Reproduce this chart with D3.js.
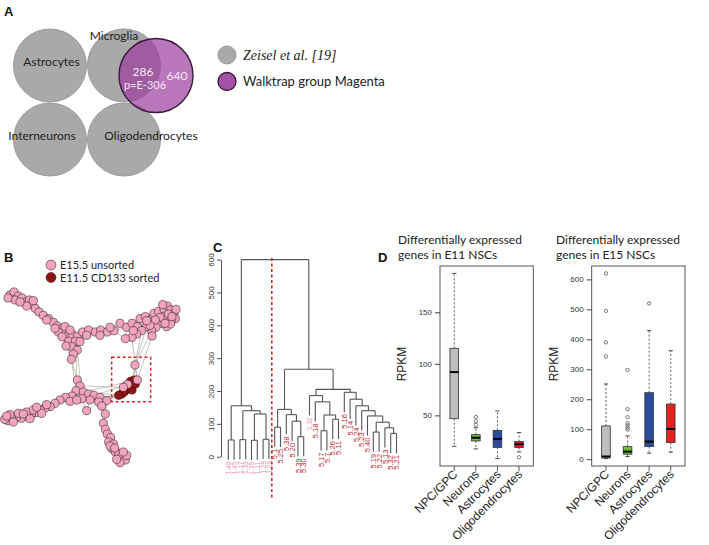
<!DOCTYPE html>
<html><head><meta charset="utf-8">
<script src="https://cdn.jsdelivr.net/npm/d3@7/dist/d3.min.js"></script>
<style>body{margin:0;background:#fff}svg{display:block}</style>
</head><body><svg id="fig" width="709" height="545"></svg>
<script>
// ---------- DATA ----------
// Panel A
const cellTypes = ["Astrocytes","Microglia","Interneurons","Oligodendrocytes"];
const cellRow = [0,0,1,1];
const cellCol = [0,1,0,1];
const overlapCount = 286, overlapP = "p=E-306", magentaOnly = 640;
const legendA = ["Zeisel et al. [19]","Walktrap group Magenta"];
// Panel B network layout coordinates (layout units)
const armTopLeft = [[30,75],[42,66],[55,78],[45,90],[66,84],[75,96],[88,90],[96,104],[80,108],[106,115],[117,126],[130,136],[146,146],[160,157],[172,168],[186,176],[196,186],[175,186],[202,198],[186,200],[216,194],[232,200],[206,214],[226,214],[214,230],[232,240],[220,252],[214,268],[24,84],[60,96],[100,92],[140,150],[165,175],[195,170],[210,180],[240,215],[198,228]];
const armTopRight = [[248,186],[266,180],[286,186],[302,180],[322,186],[342,182],[360,160],[380,172],[396,160],[412,170],[420,146],[436,140],[452,150],[462,130],[476,124],[492,118],[502,108],[512,120],[522,132],[526,146],[514,152],[500,150],[490,140],[480,160],[468,172],[455,182],[440,170],[425,182],[410,192],[396,202],[376,206],[456,198],[500,170],[512,162],[400,182],[488,104],[505,132],[480,142],[466,150],[450,166],[528,118],[516,140],[495,160],[440,152],[260,196],[300,196],[330,172]];
const hubLower = [[232,330],[240,348],[228,362],[250,366],[266,372],[282,376],[300,382],[320,392],[296,396],[270,390],[246,386],[216,378],[196,382],[180,390],[165,400],[150,410],[135,414],[120,420],[108,428],[94,432],[80,440],[64,445],[50,440],[35,446],[24,452],[14,448],[30,434],[55,430],[80,426],[100,420],[125,430],[140,404],[260,422],[316,432],[305,408],[405,285],[40,456],[70,432],[90,446],[110,412],[20,438],[210,394],[230,390]];
const armBottom = [[310,460],[316,478],[322,492],[332,502],[326,516],[340,522],[336,536],[346,546],[356,552],[366,560],[376,570],[360,578],[350,568],[380,556],[330,528],[344,534],[370,546]];
const sortedPink = [[383,343],[412,330],[370,352]];
const sortedRed = [[365,372],[375,362],[386,356],[396,346],[392,334],[402,330],[380,347],[372,366],[356,376],[396,360],[406,342]];
const longEdges = [[[214,268],[232,330]],[[405,285],[396,202]],[[405,285],[455,182]],[[405,285],[425,182]],[[405,285],[412,330]],[[405,285],[396,346]],[[240,348],[370,352]],[[266,372],[365,372]],[[300,382],[356,376]],[[320,392],[365,372]],[[282,376],[383,343]],[[305,408],[310,460]],[[316,432],[310,460]],[[246,386],[356,376]],[[214,268],[228,362]],[[232,240],[246,386]],[[440,170],[405,285]],[[250,366],[392,334]],[[296,396],[372,366]],[[456,198],[412,330]],[[232,200],[228,362]]];
const legendB = ["E15.5 unsorted","E11.5 CD133 sorted"];
// Panel C dendrogram: [height, left, right]; leaves are labels
const dendro = [600,
  [155, [51,"1.49","1.45"], [140, [52,"1.17","1.33"], [130, [50,"1.35","1.11"], [53,"1.28","1.29"]]]],
  [266,
    [144, [90,"5.1","5.25"], [128,"5.38",[108,"5.20",[61,"5.39","5.30"]]]],
    [205,
      [186,"1.32",[167,"5.18",[127,[79,"5.17","5.7"],[114,"5.26","5.11"]]]],
      [196,"5.16",[175,"5.14",[155,"5.24",[140,"5.23",[124,"5.40",[105,[75,"5.19","5.22"],[88,"5.13",[71,"5.32","5.21"]]]]]]]]
    ]
  ]
];
const dendroTicks = [0,100,200,300,400,500,600];
// Panel D boxplots
const groups = ["NPC/GPC","Neurons","Astrocytes","Oligodendrocytes"];
const e11Low = [20, 17.5, 8.1, 14.6];
const e11Q1 = [46.8, 25.2, 19, 18.8];
const e11Med = [92, 28.3, 27.2, 22];
const e11Q3 = [115, 31.3, 35.5, 24.6];
const e11High = [187.7, 38, 54.3, 33.3];
const e11Out = [[], [48.4, 44.2, 40.8], [], [9.4]];
const e11Ticks = [50,100,150];
const e15Low = [2, 8.7, 20, 23.3];
const e15Q1 = [4, 16.7, 42, 55.5];
const e15Med = [9, 25.4, 58.7, 101];
const e15Q3 = [111, 42, 222, 184];
const e15High = [251, 77.7, 429, 362];
const e15Out = [[620, 495, 390, 343], [298, 167, 140, 120, 113, 105, 99], [520], []];
const e15Ticks = [0,100,200,300,400,500,600];
const titleE11 = ["Differentially expressed","genes in E11 NSCs"];
const titleE15 = ["Differentially expressed","genes in E15 NSCs"];

// ---------- DRAW ----------
const svg = d3.select("#fig");
const sans = "Lato, 'Open Sans', sans-serif";
const arial = "'Liberation Sans', Arial, sans-serif";
function panelLabel(t,x,y){svg.append("text").attr("x",x).attr("y",y).text(t)
  .attr("font-family",arial).attr("font-weight","bold").attr("font-size",13).attr("fill","#111");}

// ===== Panel A =====
panelLabel("A",4,16);
const gA = svg.append("g");
const ax = d3.scaleLinear().domain([0,1]).range([50,124]);
const ay = d3.scaleLinear().domain([0,1]).range([65.5,139.5]);
const rA = 36.5;
gA.selectAll("circle.ct").data(cellTypes).join("circle").attr("class","ct")
  .attr("cx",(d,i)=>ax(cellCol[i])).attr("cy",(d,i)=>ay(cellRow[i])).attr("r",rA)
  .attr("fill","#a9a9a9").attr("stroke","#999").attr("stroke-width",1);
gA.append("circle").attr("cx",ax(1)+32).attr("cy",ay(0)+10).attr("r",37)
  .attr("fill","#9c3c9c").attr("fill-opacity",0.7).attr("stroke","#3a1a3a").attr("stroke-width",1.4);
const labPos = [[51.5,66],[114,40],[42,140],[151,140]];
gA.selectAll("text.ct").data(cellTypes).join("text").attr("class","ct")
  .attr("x",(d,i)=>labPos[i][0]).attr("y",(d,i)=>labPos[i][1]).attr("text-anchor","middle")
  .attr("font-family",sans).attr("font-size",12).attr("fill","#222").text(d=>d);
gA.append("text").attr("x",143).attr("y",76).attr("text-anchor","middle").attr("font-family",sans)
  .attr("font-size",12).attr("fill","#f6e8f6").text(overlapCount);
gA.append("text").attr("x",145).attr("y",89).attr("text-anchor","middle").attr("font-family",sans)
  .attr("font-size",11).attr("fill","#f6e8f6").text(overlapP);
gA.append("text").attr("x",177).attr("y",79.5).attr("text-anchor","middle").attr("font-family",sans)
  .attr("font-size",12).attr("fill","#f6e8f6").text(magentaOnly);
gA.append("circle").attr("cx",227).attr("cy",55).attr("r",9).attr("fill","#a9a9a9").attr("stroke","#999");
gA.append("circle").attr("cx",227).attr("cy",81.5).attr("r",9).attr("fill","#a551a5").attr("stroke","#2e142e").attr("stroke-width",1.3);
gA.append("text").attr("x",243).attr("y",60).attr("font-family","'Liberation Serif','Times New Roman',serif")
  .attr("font-style","italic").attr("font-size",14).attr("fill","#222").text(legendA[0]);
gA.append("text").attr("x",243).attr("y",86).attr("font-family",sans).attr("font-size",13).attr("fill","#222").text(legendA[1]);

// ===== Panel B =====
panelLabel("B",4,262);
const bx = d3.scaleLinear().domain([0,660]).range([0,220]);
const by = d3.scaleLinear().domain([0,825]).range([270,545]);
const pinkNodes = [].concat(armTopLeft,armTopRight,hubLower,armBottom);
const allNodes = pinkNodes.concat(sortedPink,sortedRed);
const edges = [];
for(let i=0;i<allNodes.length;i++)for(let j=i+1;j<allNodes.length;j++){
  const dx=allNodes[i][0]-allNodes[j][0], dy=allNodes[i][1]-allNodes[j][1];
  if(dx*dx+dy*dy<46*46) edges.push([allNodes[i],allNodes[j]]);
}
const gB = svg.append("g");
gB.selectAll("line.e").data(edges.concat(longEdges)).join("line").attr("class","e")
  .attr("x1",d=>bx(d[0][0])).attr("y1",d=>by(d[0][1])).attr("x2",d=>bx(d[1][0])).attr("y2",d=>by(d[1][1]))
  .attr("stroke","#aaa9a0").attr("stroke-width",0.7);
gB.selectAll("circle.p").data(pinkNodes).join("circle").attr("class","p")
  .attr("cx",d=>bx(d[0])).attr("cy",d=>by(d[1])).attr("r",4.1)
  .attr("fill","#f2a3bd").attr("stroke","#3a2a2e").attr("stroke-width",0.6);
gB.selectAll("circle.r").data(sortedRed).join("circle").attr("class","r")
  .attr("cx",d=>bx(d[0])).attr("cy",d=>by(d[1])).attr("r",4.1)
  .attr("fill","#8e1414").attr("stroke","#3a0a0a").attr("stroke-width",0.6);
gB.selectAll("circle.p2").data(sortedPink).join("circle").attr("class","p2")
  .attr("cx",d=>bx(d[0])).attr("cy",d=>by(d[1])).attr("r",4.1)
  .attr("fill","#f2a3bd").attr("stroke","#3a2a2e").attr("stroke-width",0.6);
gB.append("rect").attr("x",bx(335)).attr("y",by(262)).attr("width",bx(452)-bx(335)).attr("height",by(395)-by(262))
  .attr("fill","none").attr("stroke","#e0262a").attr("stroke-width",1.5).attr("stroke-dasharray","3,2.5");
const legColB = ["#f2a3bd","#8e1414"];
legendB.forEach((t,i)=>{
  gB.append("circle").attr("cx",51).attr("cy",265+i*12.5).attr("r",5).attr("fill",legColB[i]).attr("stroke","#3a2a2e").attr("stroke-width",0.6);
  gB.append("text").attr("x",60).attr("y",269+i*12.5).attr("font-family",sans).attr("font-size",11).attr("fill","#222").text(t);
});

// ===== Panel C =====
panelLabel("C",213,252);
const gC = svg.append("g");
const cy = d3.scaleLinear().domain([0,600]).range([456.7,259.6]);
function toNode(a){ if(typeof a==="string") return {name:a}; return {h:a[0],children:[toNode(a[1]),toNode(a[2])]}; }
const root = d3.hierarchy(toNode(dendro));
const leaves = root.leaves();
const cx = d3.scaleLinear().domain([0,leaves.length-1]).range([228.3,396.5]);
leaves.forEach((l,i)=>{l.xp=cx(i);});
root.eachAfter(n=>{ if(n.children) n.xp=(n.children[0].xp+n.children[1].xp)/2; });
const hang = 60;
const segs=[];
root.each(n=>{
  if(n.children){
    const h=n.data.h;
    segs.push([n.children[0].xp,h,n.children[1].xp,h]);
    n.children.forEach(c=>{
      const ch = c.children? c.data.h : h-hang;
      c.endH = ch;
      segs.push([c.xp,h,c.xp,ch]);
    });
  }
});
gC.selectAll("line.d").data(segs).join("line").attr("class","d")
  .attr("x1",d=>d[0]).attr("y1",d=>cy(d[1])).attr("x2",d=>d[2]).attr("y2",d=>cy(d[3]))
  .attr("stroke","#555").attr("stroke-width",1.1);
gC.selectAll("text.lf").data(leaves).join("text").attr("class","lf")
  .attr("transform",d=>`translate(${d.xp+2.6},${cy(d.endH)+2}) rotate(-90)`)
  .attr("text-anchor","end").attr("font-family",arial)
  .attr("font-size",d=>d.data.name.startsWith("1.")?6.5:7.5)
  .attr("fill",d=>d.data.name.startsWith("1.")?"#f28aa8":"#c0272d").text(d=>d.data.name);
const cAxis = gC.append("g").attr("transform","translate(221,0)")
  .call(d3.axisLeft(cy).tickValues(dendroTicks).tickSize(4).tickSizeOuter(0));
cAxis.select(".domain").attr("stroke","#555");
cAxis.selectAll(".tick line").attr("stroke","#555");
cAxis.selectAll(".tick text").attr("transform","rotate(-90)").attr("x",0).attr("y",-7).attr("dy",0)
  .attr("text-anchor","middle").attr("font-family",arial).attr("font-size",8).attr("fill","#333");
const cutX = (leaves[7].xp+leaves[8].xp)/2;
gC.append("line").attr("x1",cutX).attr("x2",cutX).attr("y1",258).attr("y2",498)
  .attr("stroke","#e0262a").attr("stroke-width",1.6).attr("stroke-dasharray","3,2.5");

// ===== Panel D =====
panelLabel("D",378,262);
const boxFill = ["#bdbdbd","#6fbd3b","#2a4c9c","#e2231f"];
function boxPanel(x0,x1,low,q1,med,q3,high,out,ticks,title,titleX){
  const g = svg.append("g");
  const top=266, bot=466;
  const all = [].concat(low,high,...out);
  const mn=d3.min(all), mx=d3.max(all), pad=(mx-mn)*0.04;
  const y = d3.scaleLinear().domain([mn-pad,mx+pad]).range([bot,top]);
  const x = d3.scaleLinear().domain([0.5-0.16,4.5+0.16]).range([x0,x1]);
  const bw = x(0.4)-x(0);
  const cw = bw/2;
  groups.forEach((gname,i)=>{
    const c=x(i+1);
    g.append("line").attr("x1",c).attr("x2",c).attr("y1",y(q3[i])).attr("y2",y(high[i])).attr("stroke","#333").attr("stroke-width",0.8).attr("stroke-dasharray","2,2");
    g.append("line").attr("x1",c).attr("x2",c).attr("y1",y(q1[i])).attr("y2",y(low[i])).attr("stroke","#333").attr("stroke-width",0.8).attr("stroke-dasharray","2,2");
    g.append("line").attr("x1",c-cw/2).attr("x2",c+cw/2).attr("y1",y(high[i])).attr("y2",y(high[i])).attr("stroke","#333").attr("stroke-width",0.9);
    g.append("line").attr("x1",c-cw/2).attr("x2",c+cw/2).attr("y1",y(low[i])).attr("y2",y(low[i])).attr("stroke","#333").attr("stroke-width",0.9);
    g.append("rect").attr("x",c-bw/2).attr("width",bw).attr("y",y(q3[i])).attr("height",y(q1[i])-y(q3[i]))
      .attr("fill",boxFill[i]).attr("stroke","#333").attr("stroke-width",0.8);
    g.append("line").attr("x1",c-bw/2).attr("x2",c+bw/2).attr("y1",y(med[i])).attr("y2",y(med[i])).attr("stroke","#000").attr("stroke-width",2);
    g.selectAll(null).data(out[i]).join("circle").attr("cx",c).attr("cy",v=>y(v)).attr("r",1.7)
      .attr("fill","none").attr("stroke","#444").attr("stroke-width",0.7);
    g.append("line").attr("x1",c).attr("x2",c).attr("y1",bot).attr("y2",bot+5).attr("stroke","#333").attr("stroke-width",0.8);
    g.append("text").attr("transform",`translate(${c+4},${bot+9}) rotate(-45)`).attr("text-anchor","end")
      .attr("font-family",arial).attr("font-size",12).attr("fill","#222").text(gname);
  });
  g.append("rect").attr("x",x0).attr("y",top).attr("width",x1-x0).attr("height",bot-top).attr("fill","none").attr("stroke","#444").attr("stroke-width",0.9);
  const ya = g.append("g").attr("transform",`translate(${x0},0)`).call(d3.axisLeft(y).tickValues(ticks).tickSize(5).tickPadding(3));
  ya.select(".domain").remove();
  ya.selectAll(".tick line").attr("stroke","#444");
  ya.selectAll(".tick text").attr("font-family",arial).attr("font-size",8).attr("fill","#333");
  g.append("text").attr("transform",`translate(${x0-34},${(top+bot)/2-2}) rotate(-90)`).attr("text-anchor","middle")
    .attr("font-family",arial).attr("font-size",12).attr("fill","#222").text("RPKM");
  title.forEach((t,i)=>g.append("text").attr("x",titleX).attr("y",244+i*15).attr("font-family",sans)
    .attr("font-size",12).attr("fill","#222").text(t));
}
boxPanel(440,533.3,e11Low,e11Q1,e11Med,e11Q3,e11High,e11Out,e11Ticks,titleE11,398);
boxPanel(591.7,685,e15Low,e15Q1,e15Med,e15Q3,e15High,e15Out,e15Ticks,titleE15,556);
</script></body></html>
